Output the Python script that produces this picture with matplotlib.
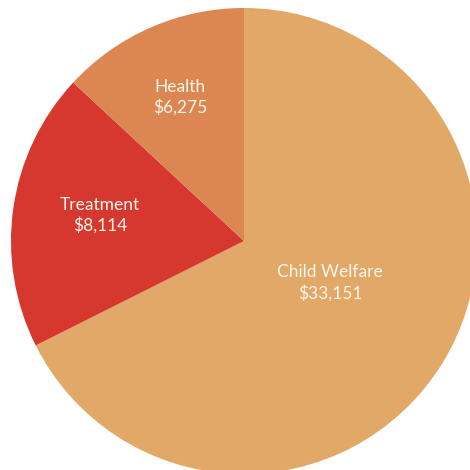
import numpy as np
import matplotlib
matplotlib.use("Agg")
import matplotlib.pyplot as plt

categories = ["Child Welfare", "Treatment", "Health"]
amounts = [33151, 8114, 6275]          # dollar amounts shown in labels
shares = [67.6, 19.3, 13.1]            # slice sizes as drawn in the picture (%)
colors = ["#E2A867", "#D6372F", "#DC8751"]

fig = plt.figure(figsize=(4.7, 4.7), dpi=100)
ax = fig.add_axes([0.0234, -0.0085, 0.9915, 0.9915])
wedges, _ = ax.pie(shares, colors=colors, startangle=90, counterclock=False,
                   radius=1.0, wedgeprops=dict(linewidth=0))
ax.set_xlim(-1, 1)
ax.set_ylim(-1, 1)
ax.set_aspect("equal")
ax.axis("off")

# label placement (radius, angle offset in degrees) per slice
label_r = [0.41, 0.628, 0.676]
label_da = [5.7, -2.1, 0.4]
for w, cat, v, r, da in zip(wedges, categories, amounts, label_r, label_da):
    ang = np.deg2rad((w.theta1 + w.theta2) / 2 + da)
    ax.text(r * np.cos(ang), r * np.sin(ang), f"{cat}\n${v:,}",
            ha="center", va="center", color="#FFF6EC", fontsize=12.5,
            family=["Lato", "DejaVu Sans"], linespacing=1.3)

fig.savefig("out.png", dpi=100)
